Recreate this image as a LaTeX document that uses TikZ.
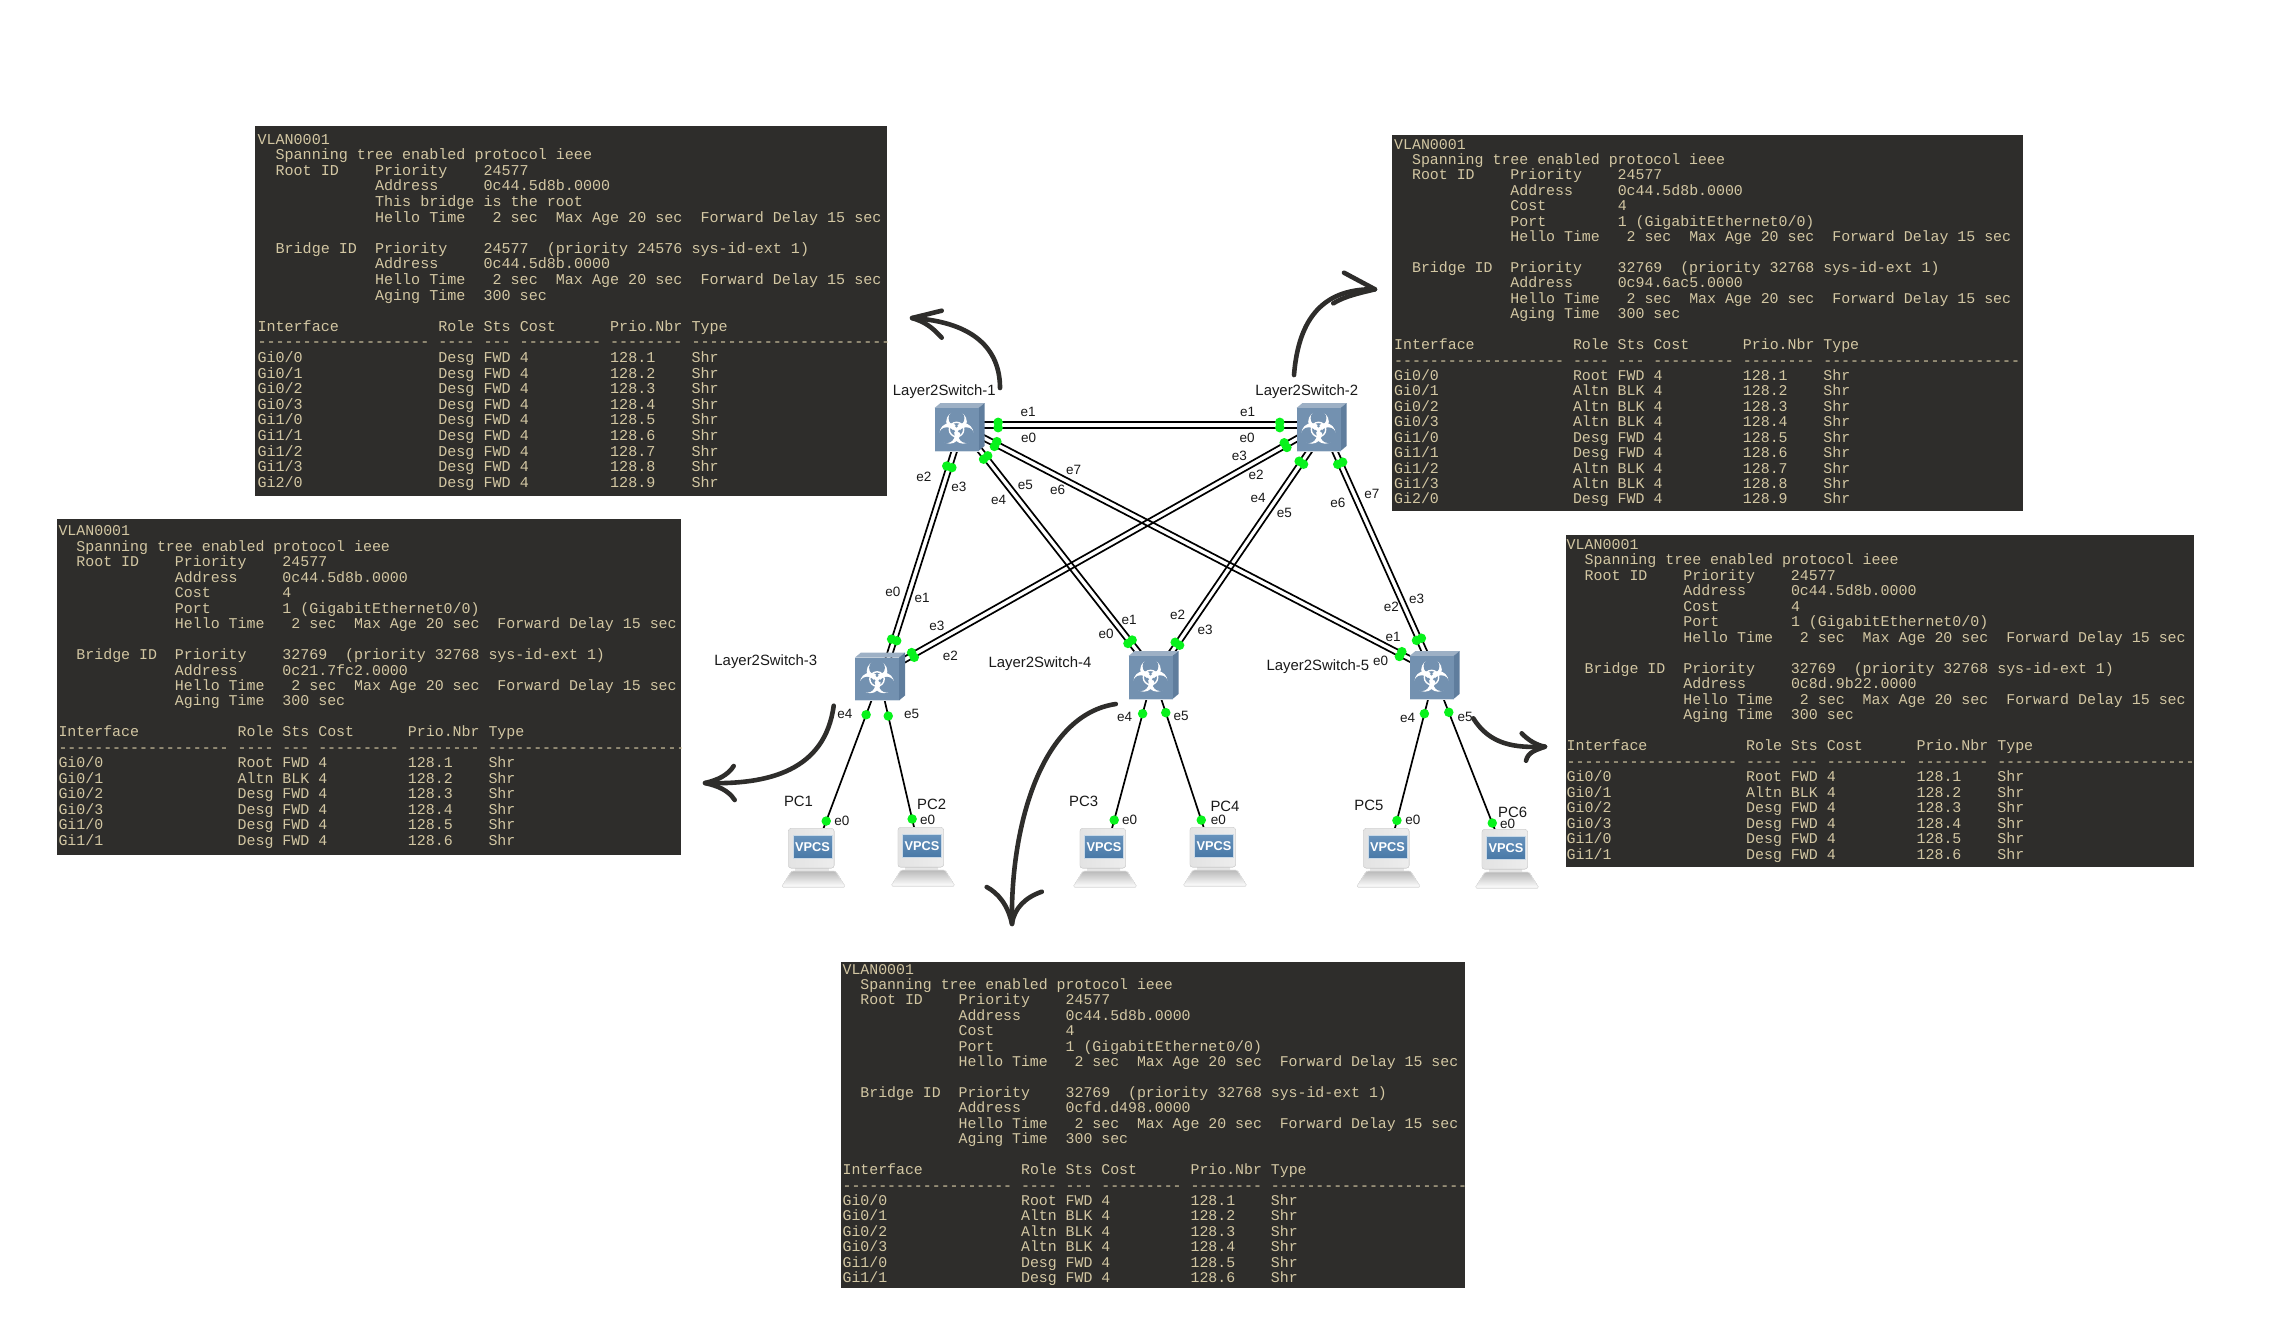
\documentclass[tikz,border=0pt]{standalone}
\usepackage{fontspec}
\setmainfont{Liberation Sans}
\newfontfamily\monofam{Liberation Mono}
\usetikzlibrary{backgrounds}
\definecolor{panelbg}{HTML}{2E2D2B}
\definecolor{panelfg}{HTML}{D3C7A3}
\definecolor{swfront}{HTML}{7391B0}
\definecolor{swtop}{HTML}{9DB0C5}
\definecolor{swside}{HTML}{5F7D9D}
\definecolor{portgreen}{HTML}{08F21C}
\definecolor{scrblue}{HTML}{4C7FB0}
\tikzset{
  linkline/.style={draw=black,line width=1.7pt},
  port/.style={circle,fill=portgreen,minimum size=9.5pt,inner sep=0pt},
  swnode/.style={rectangle,fill=swfront,minimum width=44pt,minimum height=43pt,inner sep=0pt},
  lbl/.style={font=\fontsize{13.5}{14}\selectfont,text=black!90,inner sep=0pt},
  bigarrow/.style={draw=panelbg,line width=4.6pt,line cap=round,line join=round},
  scrnode/.style={rectangle,top color=scrblue!85!white,bottom color=scrblue!95!black,draw=white!70!scrblue,line width=0.7pt,
    minimum width=39pt,minimum height=23pt,inner sep=0pt,text=white,font=\bfseries\fontsize{12.8}{13}\selectfont},
  panelnode/.style={anchor=base west,inner sep=0pt,text=panelfg}
}
\newcount\portn
\newcommand\lnk[8]{% a, shift a, b, shift b, normal x, normal y, pos1, pos2
  \global\advance\portn by 1
  \edef\pn{pt\the\portn}
  \draw[linkline] ([shift={(#2)},shift={(#5,#6)}]#1.center) -- node[port,pos=#7] (\pn a) {} node[port,pos=#8] (\pn b) {} ([shift={(#4)},shift={(#5,#6)}]#3.center);
  \draw[linkline] ([shift={(#2)},shift={({-1*(#5)},{-1*(#6)})}]#1.center) -- node[port,pos=#7] (\pn c) {} node[port,pos=#8] (\pn d) {} ([shift={(#4)},shift={({-1*(#5)},{-1*(#6)})}]#3.center);
}
\newcommand\pln[6]{% a, shift a, b, shift b, pos1, pos2
  \global\advance\portn by 1
  \edef\pn{pt\the\portn}
  \draw[linkline] ([shift={(#2)}]#1.center) -- node[port,pos=#5] (\pn a) {} node[port,pos=#6] (\pn b) {} ([shift={(#4)}]#3.center);
}
\newcommand\swicon[3]{%
  \begin{scope}[shift={(#2,#3)}]
    \fill[swtop] (-22,-21.5) -- (-16,-26.5) -- (28,-26.5) -- (22,-21.5) -- cycle;
    \fill[swside] (22,-21.5) -- (28,-26.5) -- (28,16.5) -- (22,21.5) -- cycle;
    \node[swnode] (#1) at (0,0) {};
    \draw[white!70!swfront,line width=.7pt] (-22,21.5) -- (22,21.5);
    \foreach \a in {-90,30,150} {
      \fill[white] (\a:7.8) circle[radius=10.3];
      \fill[swfront] (\a:11.3) circle[radius=7.9];
    }
    \draw[white,line width=1.4pt] (0,0) circle[radius=7.2];
    \foreach \a in {-90,30,150} {\fill[swfront] (\a:3.4) circle[radius=1.5];}
    \fill[white] (0,0) circle[radius=1.7];
  \end{scope}
}
\newcommand\pcicon[3]{%
  \begin{scope}[shift={(#2,#3)}]
    \fill[top color=gray!14,bottom color=gray!30] (-17,20) rectangle (16,25);
    \fill[top color=gray!55,bottom color=white,draw=gray!20,line width=.6pt,rounded corners=1.5pt]
      (-21,24) -- (23,24) -- (33,40) -- (-31,40) -- cycle;
    \fill[left color=gray!22,right color=gray!14,draw=gray!28,line width=.6pt,rounded corners=2.5pt]
      (-24,-18.5) rectangle (21.5,21);
    \node[scrnode] (#1) at (0,0) {VPCS};
  \end{scope}
}
\newcommand\PL[1]{\hbox{#1}}
\newcommand\Ind{~~~~~~~~~~~~~}
\newcommand\PTop{\PL{VLAN0001}\PL{~~Spanning~tree~enabled~protocol~ieee}\PL{~~Root~ID~~~~Priority~~~~24577}\PL{\Ind Address~~~~~0c44.5d8b.0000}}
\newcommand\PHello{\PL{\Ind Hello~Time~~~2~sec~~Max~Age~20~sec~~Forward~Delay~15~sec}}
\newcommand\PCost{\PL{\Ind Cost~~~~~~~~4}\PL{\Ind Port~~~~~~~~1~(GigabitEthernet0/0)}}
\newcommand\PBridge[3]{\PL{}\PL{~~Bridge~ID~~Priority~~~~#1~~(priority~#2~sys-id-ext~1)}\PL{\Ind Address~~~~~#3}\PHello\PL{\Ind Aging~Time~~300~sec}\PL{}%
  \PL{Interface~~~~~~~~~~~Role~Sts~Cost~~~~~~Prio.Nbr~Type}\PL{-------------------~----~---~---------~--------~----------------------}}
\newcommand\PRow[3]{\PL{#1~~~~~~~~~~~~~~~#2~4~~~~~~~~~128.#3~~~~Shr}}
\newcommand\panel[7]{%
  \begin{scope}
    \clip (#2) rectangle (#3);
    \fill[panelbg] (#2) rectangle (#3);
    \node[panelnode] (#1) at (#4) {\monofam\fontsize{#5}{#6}\selectfont\vtop{\baselineskip=#6pt\lineskiplimit=-1000pt #7}};
  \end{scope}
}
\begin{document}
\begin{tikzpicture}[x=1pt,y=-1pt]
\useasboundingbox (0,0) rectangle (2278,1334);

% ---------- panels ----------
\panel{panelA}{255,126}{887,496}{257.3,144}{15.07}{15.6}{\PTop
  \PL{\Ind This~bridge~is~the~root}\PHello
  \PBridge{24577}{24576}{0c44.5d8b.0000}
  \PRow{Gi0/0}{Desg~FWD}{1}\PRow{Gi0/1}{Desg~FWD}{2}\PRow{Gi0/2}{Desg~FWD}{3}\PRow{Gi0/3}{Desg~FWD}{4}
  \PRow{Gi1/0}{Desg~FWD}{5}\PRow{Gi1/1}{Desg~FWD}{6}\PRow{Gi1/2}{Desg~FWD}{7}\PRow{Gi1/3}{Desg~FWD}{8}\PRow{Gi2/0}{Desg~FWD}{9}}
\panel{panelB}{1392,135}{2023,511}{1394,149}{14.9}{15.43}{\PTop
  \PCost\PHello
  \PBridge{32769}{32768}{0c94.6ac5.0000}
  \PRow{Gi0/0}{Root~FWD}{1}\PRow{Gi0/1}{Altn~BLK}{2}\PRow{Gi0/2}{Altn~BLK}{3}\PRow{Gi0/3}{Altn~BLK}{4}
  \PRow{Gi1/0}{Desg~FWD}{5}\PRow{Gi1/1}{Desg~FWD}{6}\PRow{Gi1/2}{Altn~BLK}{7}\PRow{Gi1/3}{Altn~BLK}{8}\PRow{Gi2/0}{Desg~FWD}{9}}
\panel{panelC}{57,519.3}{681,855.3}{58.3,535.7}{14.93}{15.48}{\PTop
  \PCost\PHello
  \PBridge{32769}{32768}{0c21.7fc2.0000}
  \PRow{Gi0/0}{Root~FWD}{1}\PRow{Gi0/1}{Altn~BLK}{2}\PRow{Gi0/2}{Desg~FWD}{3}\PRow{Gi0/3}{Desg~FWD}{4}
  \PRow{Gi1/0}{Desg~FWD}{5}\PRow{Gi1/1}{Desg~FWD}{6}}
\panel{panelD}{1565.5,535.3}{2194,867.3}{1566.5,549}{14.95}{15.5}{\PTop
  \PCost\PHello
  \PBridge{32769}{32768}{0c8d.9b22.0000}
  \PRow{Gi0/0}{Root~FWD}{1}\PRow{Gi0/1}{Altn~BLK}{2}\PRow{Gi0/2}{Desg~FWD}{3}\PRow{Gi0/3}{Desg~FWD}{4}
  \PRow{Gi1/0}{Desg~FWD}{5}\PRow{Gi1/1}{Desg~FWD}{6}}
\panel{panelE}{841.2,962.3}{1465,1288.3}{842.4,974}{14.87}{15.43}{\PTop
  \PCost\PHello
  \PBridge{32769}{32768}{0cfd.d498.0000}
  \PRow{Gi0/0}{Root~FWD}{1}\PRow{Gi0/1}{Altn~BLK}{2}\PRow{Gi0/2}{Altn~BLK}{3}\PRow{Gi0/3}{Altn~BLK}{4}
  \PRow{Gi1/0}{Desg~FWD}{5}\PRow{Gi1/1}{Desg~FWD}{6}}

% ---------- switches and PCs ----------
\swicon{s1}{956.5}{429.5}
\swicon{s2}{1318.5}{429.5}
\swicon{s3}{877}{679}
\swicon{s4}{1150.5}{677.5}
\swicon{s5}{1431.5}{677.5}
\pcicon{pc1}{812.5}{847}
\pcicon{pc2}{922}{846}
\pcicon{pc3}{1104}{847}
\pcicon{pc4}{1214}{846}
\pcicon{pc5}{1387.5}{847}
\pcicon{pc6}{1506}{848}

% ---------- links ----------
\begin{scope}[on background layer]
  \lnk{s1}{0,-4.5}{s2}{0,-4.5}{0}{2.7}{.115}{.893}
  \lnk{s1}{5.5,-2.5}{s3}{4.7,0}{2.57}{.82}{.158}{.845}
  \lnk{s1}{0.5,-8.5}{s4}{2.5,-6.5}{2.1}{-1.7}{.146}{.883}
  \lnk{s1}{0.5,-5.5}{s5}{2.5,-6.1}{1.25}{-2.4}{.081}{.93}
  \lnk{s2}{1.5,-3.8}{s3}{1,-4.4}{1.33}{2.35}{.078}{.921}
  \lnk{s2}{7.3,-2.5}{s4}{5.5,-2.5}{2.2}{1.5}{.144}{.874}
  \lnk{s2}{5.5,-2.5}{s5}{3.4,-2.5}{2.46}{-1.1}{.146}{.856}
  \pln{s3}{-5.6,21.7}{pc1}{11,-18.7}{.11}{.943}
  \pln{s3}{7.7,21.7}{pc2}{-7.7,-17.7}{.12}{.927}
  \pln{s4}{-3.5,19.8}{pc3}{8,-18.7}{.125}{.937}
  \pln{s4}{10.2,19.8}{pc4}{-10,-17.7}{.117}{.937}
  \pln{s5}{-2.9,19.8}{pc5}{7.4,-18.7}{.125}{.94}
  \pln{s5}{11.8,20.8}{pc6}{-11,-18}{.106}{.947}
\end{scope}

% ---------- labels ----------
\foreach \x/\y/\t [count=\i] in {
  944.3/391.3/Layer2Switch-1, 1306.8/391.3/Layer2Switch-2, 765.8/662/Layer2Switch-3,
  1040/663.3/Layer2Switch-4, 1317.9/666.3/Layer2Switch-5,
  798.5/801.3/PC1, 931.6/804.3/PC2, 1083.7/801.3/PC3, 1225/806/PC4, 1368.9/805.3/PC5, 1512.7/812.7/PC6}
  \node[lbl,font=\fontsize{14.9}{15}\selectfont] (nm\i) at (\x,\y) {\t};
\foreach \x/\y/\t [count=\i] in {
  1028.2/412.3/e1, 1028.6/437.7/e0, 1247.5/412.3/e1, 1247/437.7/e0, 1239.3/456/e3, 1256/474.7/e2,
  1258.2/498/e4, 1284.3/512.7/e5, 1337.9/502.7/e6, 1371.8/493.7/e7,
  923.9/477/e2, 958.9/487.3/e3, 998.6/499.7/e4, 1025.4/484.7/e5, 1057.5/490.3/e6, 1073.6/469.7/e7,
  892.9/591.7/e0, 922.1/598/e1, 936.8/625.7/e3, 950.4/656/e2,
  1106/634/e0, 1129/620.3/e1, 1177.5/615/e2, 1205/629.7/e3,
  1391.4/607/e2, 1416.5/598.6/e3, 1393.2/637.3/e1, 1380.7/660.7/e0,
  844.9/713.7/e4, 911.7/713.7/e5, 1124.5/717/e4, 1181/716.3/e5, 1407.7/718/e4, 1465/717.3/e5,
  841.8/820.7/e0, 927.6/819.7/e0, 1129.6/820/e0, 1218.4/820.3/e0, 1412.8/820.3/e0, 1507.7/824/e0}
  \node[lbl] (pl\i) at (\x,\y) {\t};

% ---------- hand-drawn arrows ----------
\coordinate (t1) at (912,318);
\coordinate (t2) at (1375,289.3);
\coordinate (t3) at (705,783);
\coordinate (t4) at (1012,924);
\coordinate (t5) at (1545,746.7);
\draw[bigarrow] (1000,388) .. controls (1000,350) and (975,322) .. (t1);
\draw[bigarrow] (941.7,310.7) -- (t1) .. controls (925,322) and (932,327) .. (941.7,337.7);
\draw[bigarrow] (1294,375) .. controls (1298,325) and (1318,288) .. (t2);
\draw[bigarrow] (1344,272.7) -- (t2) .. controls (1360,293) and (1345,296) .. (1333.3,303.3);
\draw[bigarrow] (833.7,705.7) .. controls (825,770) and (770,785) .. (t3);
\draw[bigarrow] (733.7,766) .. controls (728,775) and (718,780) .. (t3) .. controls (718,786) and (728,790) .. (734.7,800);
\draw[bigarrow] (1115.8,704) .. controls (1040,715) and (1010,830) .. (t4);
\draw[bigarrow] (986.7,887) .. controls (998,893) and (1008,905) .. (t4) .. controls (1014,908) and (1026,897) .. (1041.8,891.7);
\draw[bigarrow] (1473.3,718.3) .. controls (1490,745) and (1515,748) .. (t5);
\draw[bigarrow] (1521.7,733.3) .. controls (1528,740) and (1536,745) .. (t5) .. controls (1536,750) and (1528,752) .. (1526,760.7);
\end{tikzpicture}
\end{document}
